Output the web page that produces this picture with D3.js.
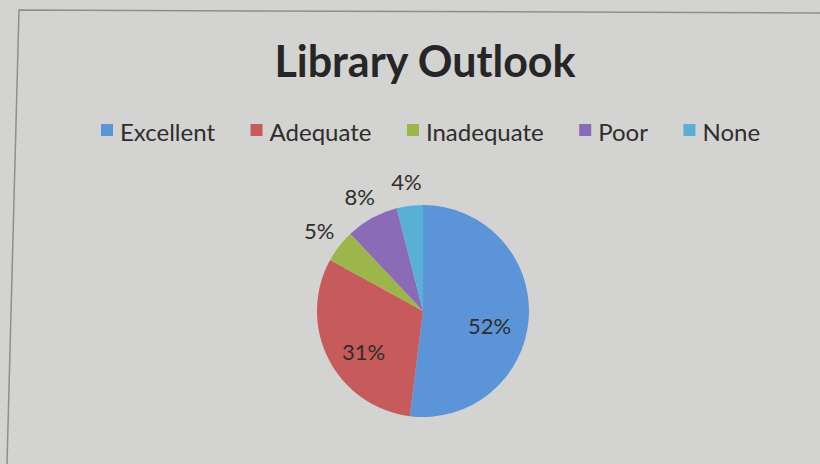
<!DOCTYPE html>
<html>
<head>
<meta charset="utf-8">
<script src="https://cdn.jsdelivr.net/npm/d3@7"></script>
<style>
	body { margin: 0; background: #d3d3d1; }
	svg { display: block; }
	text { font-family: Lato, "Open Sans", sans-serif; fill: #2e2e2e; }
</style>
</head>
<body>
<div class="chart"></div>
<script>

const categories = ['Excellent', 'Adequate', 'Inadequate', 'Poor', 'None'];
const shares = [52, 31, 5, 8, 4];
const sliceColors = ['#5b95d8', '#c75a5b', '#9db64c', '#8a6bb8', '#58b0d6'];

const width = 820;
const height = 464;
const radius = 106;
const cx = 423;
const cy = 311;

const data = categories.map(function(c, i) {
	return { name: c, value: shares[i], color: sliceColors[i] };
});

const svg = d3.select('.chart').append('svg')
	.attr('width', width)
	.attr('height', height);

// paper frame (photo is a bit skewed)
svg.append('path')
	.attr('d', 'M7,464 L19,10 L820,13')
	.attr('fill', 'none')
	.attr('stroke', '#8e8e8c')
	.attr('stroke-width', 1.5);

svg.append('text')
	.text('Library Outlook')
	.attr('x', 425)
	.attr('y', 77)
	.attr('text-anchor', 'middle')
	.attr('font-size', 43)
	.attr('font-weight', 'bold')
	.style('fill', '#262626');

// legend
const legend = svg.append('g').attr('class', 'legend');
let lx = 101;
data.forEach(function(d) {
	const g = legend.append('g').attr('transform', `translate(${lx},0)`);
	g.append('rect')
		.attr('x', 0)
		.attr('y', 124)
		.attr('width', 12)
		.attr('height', 12)
		.attr('fill', d.color);
	const t = g.append('text')
		.text(d.name)
		.attr('x', 19)
		.attr('y', 141)
		.attr('font-size', 24);
	lx += 19 + t.node().getComputedTextLength() + 35.5;
});

const pie = d3.pie()
	.sort(null)
	.value(function(d) { return d.value; });

const arc = d3.arc()
	.innerRadius(0)
	.outerRadius(radius);

const innerLabel = d3.arc().innerRadius(radius * 0.63).outerRadius(radius * 0.63);
const outerLabel = d3.arc().innerRadius(radius * 1.24).outerRadius(radius * 1.24);

const pieG = svg.append('g').attr('transform', `translate(${cx},${cy})`);

pieG.selectAll('.slice')
	.data(pie(data))
	.enter()
	.append('path')
	.attr('d', arc)
	.attr('fill', function(d) { return d.data.color; })
	.attr('class', 'slice');

pieG.selectAll('.pct')
	.data(pie(data))
	.enter()
	.append('text')
	.text(function(d) { return `${d.data.value}%`; })
	.attr('transform', function(d) {
		const c = d.data.value > 20 ? innerLabel.centroid(d) : outerLabel.centroid(d);
		return `translate(${c[0]},${c[1]})`;
	})
	.attr('dy', function(d) { return d.data.value > 20 ? 19 : 9; })
	.attr('text-anchor', 'middle')
	.attr('font-size', 22)
	.attr('class', 'pct');

</script>
</body>
</html>
